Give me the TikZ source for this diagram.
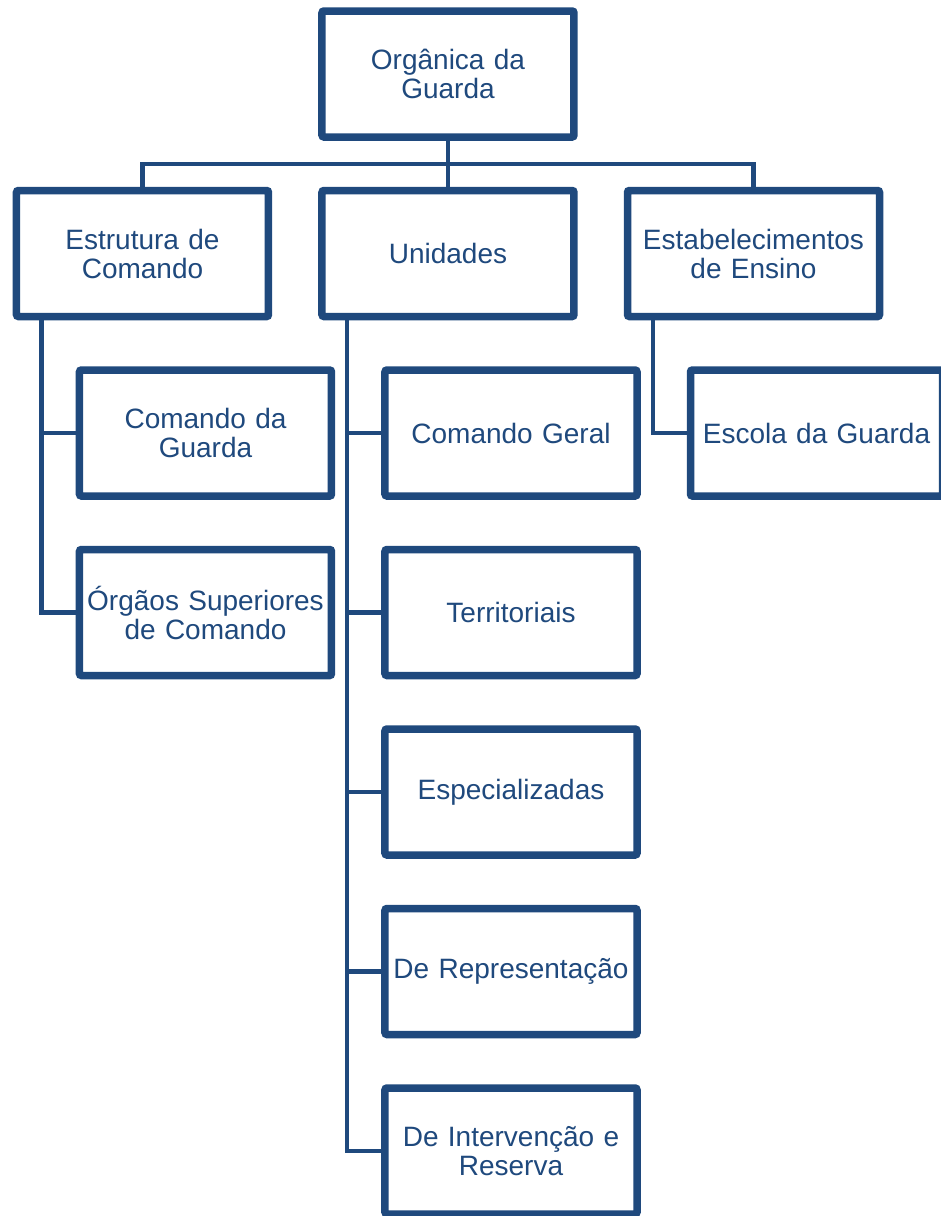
\documentclass[tikz,border=0pt]{standalone}
\usepackage{fontspec}
\setmainfont{Liberation Sans}
\usetikzlibrary{positioning,shadows}
\definecolor{navy}{RGB}{31,73,125}

\begin{document}
\begin{tikzpicture}[
                    orgbox/.style={rectangle, draw=navy, line width=7.5pt, fill=white, rounded corners=2pt, minimum width=252pt, minimum height=126pt, inner sep=0pt, text width=240pt, align=center, text=navy, font=\fontsize{28}{29}\selectfont, drop shadow={shadow xshift=2pt, shadow yshift=-3pt, opacity=0.3, fill=black!70}},
                    link/.style={draw=navy, line width=4.5pt}
                ]
                    \clip (-448pt,74pt) rectangle (493pt,-1142pt);
                    \node[orgbox] (top) at (0,0) {Orgânica da\\Guarda};
                    \node[orgbox] (unid) [below=46pt of top] {Unidades};
                    \node[orgbox] (estr) [left=46pt of unid] {Estrutura de\\Comando};
                    \node[orgbox] (estab) [right=46pt of unid] {Estabelecimentos\\de Ensino};
                    \node[orgbox] (cmdg) [below=46pt of estr, xshift=63pt] {Comando da\\Guarda};
                    \node[orgbox] (osc) [below=46pt of cmdg] {Órgãos Superiores\\de Comando};
                    \node[orgbox] (ger) [below=46pt of unid, xshift=63pt] {Comando Geral};
                    \node[orgbox] (terr) [below=46pt of ger] {Territoriais};
                    \node[orgbox] (esp) [below=46pt of terr] {Especializadas};
                    \node[orgbox] (rep) [below=46pt of esp] {De Representação};
                    \node[orgbox] (interv) [below=46pt of rep] {De Intervenção e\\Reserva};
                    \node[orgbox] (escola) [below=46pt of estab, xshift=63pt] {Escola da Guarda};
                    \draw[link] (top.south) -- (unid.north);
                    \draw[link] (top.south) -- ++(0,-23pt) -| (estr.north);
                    \draw[link] (top.south) -- ++(0,-23pt) -| (estab.north);
                    \draw[link] ([xshift=29pt]estr.south west) |- (cmdg.west);
                    \draw[link] ([xshift=29pt]estr.south west) |- (osc.west);
                    \draw[link] ([xshift=29pt]unid.south west) |- (ger.west);
                    \draw[link] ([xshift=29pt]unid.south west) |- (terr.west);
                    \draw[link] ([xshift=29pt]unid.south west) |- (esp.west);
                    \draw[link] ([xshift=29pt]unid.south west) |- (rep.west);
                    \draw[link] ([xshift=29pt]unid.south west) |- (interv.west);
                    \draw[link] ([xshift=29pt]estab.south west) |- (escola.west);
                \end{tikzpicture}
\end{document}
